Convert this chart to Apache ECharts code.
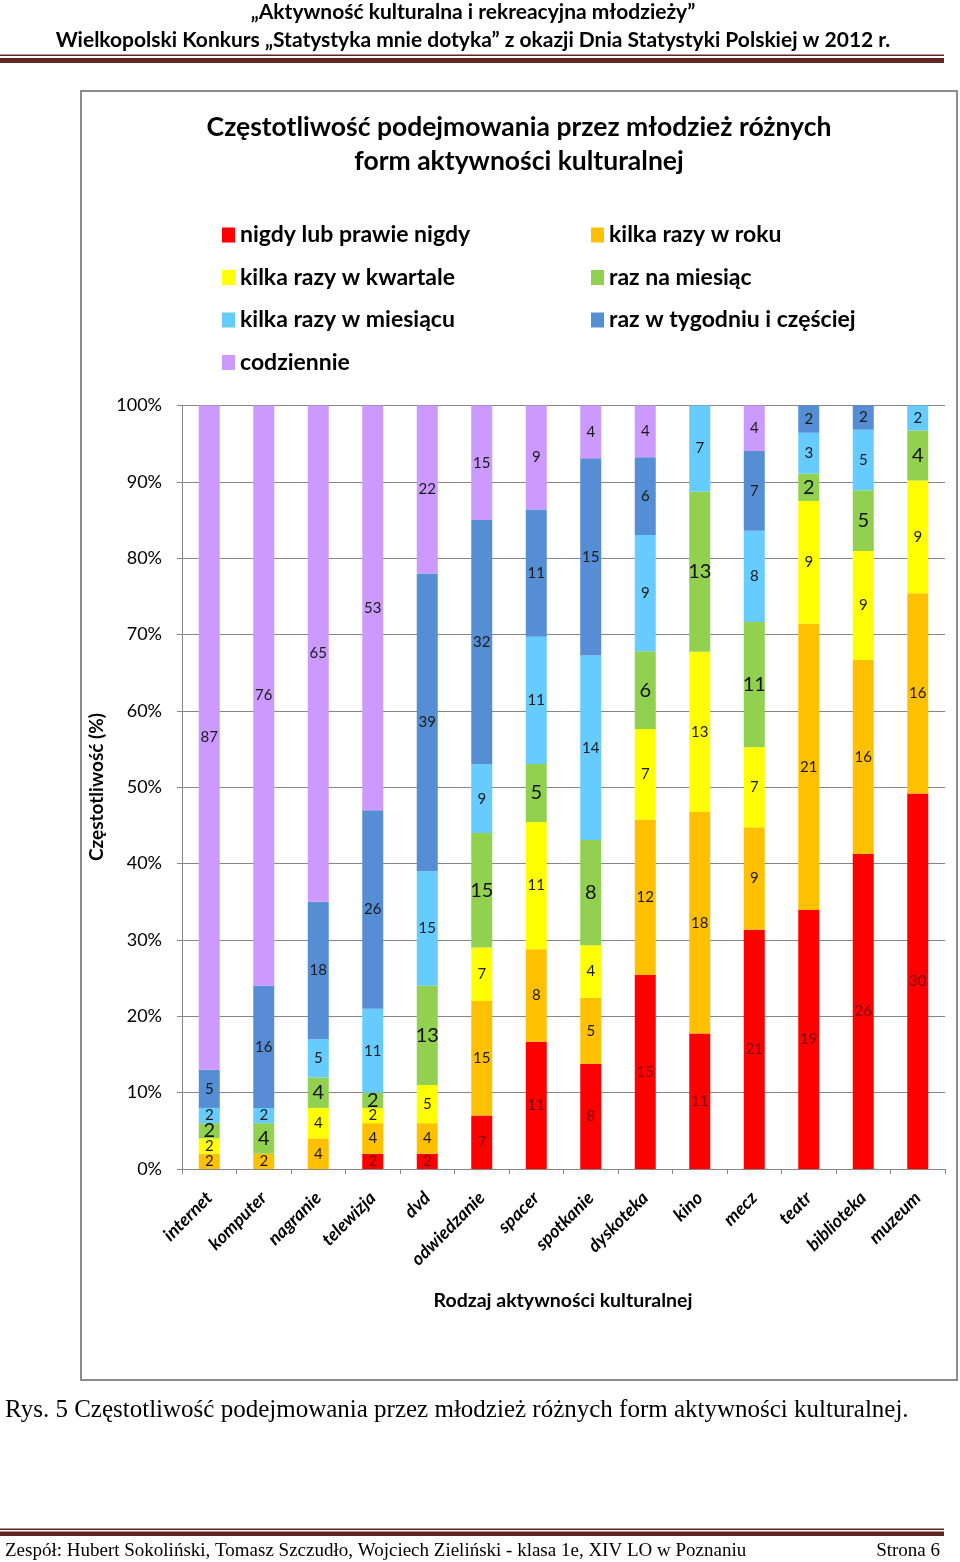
<!DOCTYPE html>
<html>
<head>
<meta charset="utf-8">
<script src="https://cdn.jsdelivr.net/npm/echarts@6/dist/echarts.min.js"></script>
<style>
html,body{margin:0;padding:0;background:#fff;}
#chart{width:960px;height:1562px;}
</style>
</head>
<body>
<div id="chart"></div>
<script>
const categories = ['internet','komputer','nagranie','telewizja','dvd','odwiedzanie','spacer','spotkanie','dyskoteka','kino','mecz','teatr','biblioteka','muzeum'];
const seriesNames = ['nigdy lub prawie nigdy','kilka razy w roku','kilka razy w kwartale','raz na miesiąc','kilka razy w miesiącu','raz w tygodniu i częściej','codziennie'];
const nigdy      = [0, 0, 0, 2, 2, 7, 11, 8, 15, 11, 21, 19, 26, 30];
const wRoku      = [2, 2, 4, 4, 4, 15, 8, 5, 12, 18, 9, 21, 16, 16];
const wKwartale  = [2, 0, 4, 2, 5, 7, 11, 4, 7, 13, 7, 9, 9, 9];
const naMiesiac  = [2, 4, 4, 2, 13, 15, 5, 8, 6, 13, 11, 2, 5, 4];
const wMiesiacu  = [2, 2, 5, 11, 15, 9, 11, 14, 9, 7, 8, 3, 5, 2];
const wTygodniu  = [5, 16, 18, 26, 39, 32, 11, 15, 6, 0, 7, 2, 2, 0];
const codziennie = [87, 76, 65, 53, 22, 15, 9, 4, 4, 0, 4, 0, 0, 0];
const yTickValues = [0,10,20,30,40,50,60,70,80,90,100];

const allCounts = [nigdy, wRoku, wKwartale, naMiesiac, wMiesiacu, wTygodniu, codziennie];
const colors = ['#FF0000','#FFC000','#FFFF00','#92D050','#66CCFF','#558ED5','#CC99FF'];
const labelColors = ['#7a0000','#1a1a1a','#1a1a1a','#111','#1a1a1a','#1a1a1a','#1a1a1a'];
const labelSizes = [15,15,15,20,15,15,15];
const totals = categories.map((c,i)=>allCounts.reduce((s,arr)=>s+arr[i],0));

const FONT = 'Lato, "Noto Sans", sans-serif';

const series = allCounts.map((counts, si) => ({
  name: seriesNames[si],
  type: 'bar',
  stack: 'total',
  barWidth: 21,
  itemStyle: { color: colors[si] },
  label: {
    show: true,
    position: 'inside',
    fontFamily: FONT,
    fontSize: labelSizes[si],
    color: labelColors[si],
    formatter: p => counts[p.dataIndex] ? String(counts[p.dataIndex]) : ''
  },
  data: counts.map((v,i)=> v / totals[i] * 100)
}));

const chart = echarts.init(document.getElementById('chart'), null, {renderer:'canvas'});
const darkRed = '#632523';
const legendText = { fontFamily: FONT, fontWeight: 'bold', fontSize: 23, color: '#000', lineHeight: 24 };
chart.setOption({
  animation: false,
  backgroundColor: '#fff',
  grid: { left: 182, right: 15, top: 405.5, bottom: 393, containLabel: false },
  legend: [
    {
      orient: 'vertical', left: 217, top: 218, itemWidth: 13, itemHeight: 15, itemGap: 18.5,
      icon: 'rect',
      data: [seriesNames[0], seriesNames[2], seriesNames[4], seriesNames[6]],
      textStyle: legendText
    },
    {
      orient: 'vertical', left: 586, top: 218, itemWidth: 13, itemHeight: 15, itemGap: 18.5,
      icon: 'rect',
      data: [seriesNames[1], seriesNames[3], seriesNames[5]],
      textStyle: legendText
    }
  ],
  xAxis: {
    type: 'category',
    data: categories,
    axisLine: { lineStyle: { color: '#868686', width: 1 } },
    axisTick: { show: true, interval: 0, length: 5, lineStyle: { color: '#868686' } },
    axisLabel: {
      interval: 0, rotate: 45, margin: 26,
      fontFamily: FONT, fontStyle: 'italic', fontWeight: 'bold', fontSize: 18, color: '#000'
    }
  },
  yAxis: {
    type: 'value',
    min: 0, max: 100, interval: 10,
    axisLine: { show: true, lineStyle: { color: '#868686', width: 1 } },
    axisTick: { show: true, length: 5, lineStyle: { color: '#868686' } },
    splitLine: { show: true, lineStyle: { color: '#868686', width: 1 } },
    axisLabel: {
      margin: 20, fontFamily: FONT, fontSize: 18, color: '#000',
      formatter: v => yTickValues.includes(v) ? v + '%' : ''
    }
  },
  series: series,
  graphic: [
    { type: 'text', style: { text: '„Aktywność kulturalna i rekreacyjna młodzieży”', x: 473, y: 12, align: 'center', verticalAlign: 'middle', fontFamily: FONT, fontWeight: 'bold', fontSize: 21, fill: '#000' } },
    { type: 'text', style: { text: 'Wielkopolski Konkurs „Statystyka mnie dotyka” z okazji Dnia Statystyki Polskiej w 2012 r.', x: 473, y: 40, align: 'center', verticalAlign: 'middle', fontFamily: FONT, fontWeight: 'bold', fontSize: 21, fill: '#000' } },
    { type: 'rect', shape: { x: 0, y: 54.5, width: 944, height: 1.5 }, style: { fill: darkRed } },
    { type: 'rect', shape: { x: 0, y: 58, width: 944, height: 5 }, style: { fill: darkRed } },
    { type: 'rect', shape: { x: 81, y: 91, width: 876, height: 1289 }, style: { fill: 'none', stroke: '#8c8c8c', lineWidth: 2 }, z: -1 },
    { type: 'text', style: { text: 'Częstotliwość podejmowania przez młodzież różnych', x: 519, y: 127, align: 'center', verticalAlign: 'middle', fontFamily: FONT, fontWeight: 'bold', fontSize: 26.5, fill: '#000' } },
    { type: 'text', style: { text: 'form aktywności kulturalnej', x: 519, y: 161, align: 'center', verticalAlign: 'middle', fontFamily: FONT, fontWeight: 'bold', fontSize: 26.5, fill: '#000' } },
    { type: 'text', x: 97, y: 787, rotation: Math.PI/2, style: { text: 'Częstotliwość (%)', x: 0, y: 0, align: 'center', verticalAlign: 'middle', fontFamily: FONT, fontWeight: 'bold', fontSize: 19, fill: '#000' } },
    { type: 'text', style: { text: 'Rodzaj aktywności kulturalnej', x: 563, y: 1301, align: 'center', verticalAlign: 'middle', fontFamily: FONT, fontWeight: 'bold', fontSize: 19.5, fill: '#000' } },
    { type: 'text', style: { text: 'Rys. 5 Częstotliwość podejmowania przez młodzież różnych form aktywności kulturalnej.', x: 5, y: 1410, align: 'left', verticalAlign: 'middle', fontFamily: '"Liberation Serif", serif', fontSize: 25, fill: '#000' } },
    { type: 'rect', shape: { x: 0, y: 1528.5, width: 944, height: 1.5 }, style: { fill: darkRed } },
    { type: 'rect', shape: { x: 0, y: 1531.5, width: 944, height: 4.5 }, style: { fill: darkRed } },
    { type: 'text', style: { text: 'Zespół: Hubert Sokoliński, Tomasz Szczudło, Wojciech Zieliński - klasa 1e, XIV LO w Poznaniu', x: 5, y: 1551, align: 'left', verticalAlign: 'middle', fontFamily: '"Liberation Serif", serif', fontSize: 19, fill: '#000' } },
    { type: 'text', style: { text: 'Strona 6', x: 940, y: 1551, align: 'right', verticalAlign: 'middle', fontFamily: '"Liberation Serif", serif', fontSize: 19, fill: '#000' } }
  ]
});
</script>
</body>
</html>
